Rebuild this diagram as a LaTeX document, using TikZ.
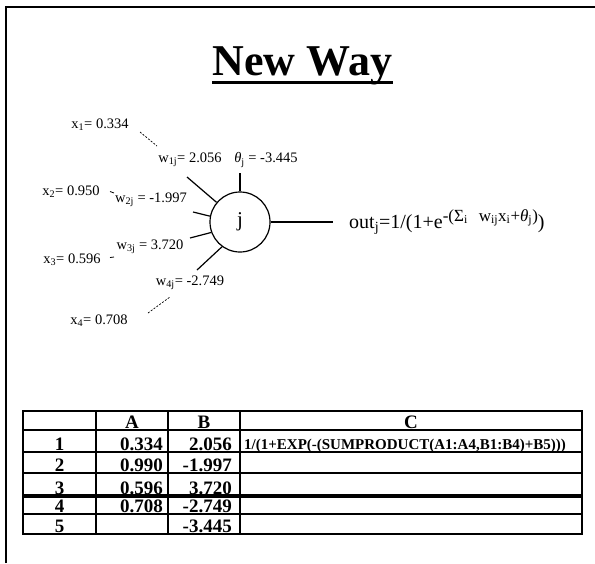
\documentclass[tikz,border=0pt]{standalone}
\usepackage{fontspec}
\setmainfont{Liberation Serif}
\newcommand{\sbx}[1]{\textsubscript{#1}}
\begin{document}
\begin{tikzpicture}[x=1pt,y=-1pt,
  lbl/.style={inner sep=0pt, font=\fontsize{14.5}{15}\selectfont},
  stub/.style={line width=1.2pt},
  gap/.style={line width=0.7pt, dash pattern=on 2pt off 1.5pt},
  cell/.style={inner sep=0pt, anchor=base, font=\bfseries\fontsize{19}{20}\selectfont},
  grid/.style={line width=1.6pt}]
\useasboundingbox (0,0) rectangle (595,563);
% frame
\draw[line width=2pt] (6,563) -- (6,7) -- (595,7);
% title
\node[inner sep=0pt, anchor=base, font=\bfseries\fontsize{44}{48}\selectfont] (title) at (302.5,75) {New Way};
\draw[line width=3pt] (title.base west) ++(0,7) coordinate (ul1) -- (title.base east |- ul1);
% neuron
\node[draw, circle, line width=1.2pt, minimum size=60pt, inner sep=0pt, font=\fontsize{21}{22}\selectfont] (j) at (240,222) {j};
\coordinate (w1e) at (187,177);
\coordinate (w2e) at (193,212);
\coordinate (w3e) at (190,238);
\coordinate (w4e) at (197,270);
\coordinate (the) at (240,173);
\coordinate (oute) at (333,222);
\draw[stub] (j.140) -- (w1e);
\draw[stub] (j.169) -- (w2e);
\draw[stub] (j.200) -- (w3e);
\draw[stub] (j.234) -- (w4e);
\draw[stub] (j.90) -- (the);
\draw[line width=1.6pt] (j.0) -- (oute);
% labels
\node[lbl] (x1) at (100,125) {x\sbx{1}= 0.334};
\node[lbl] (x2) at (71,192) {x\sbx{2}= 0.950};
\node[lbl] (x3) at (72,260) {x\sbx{3}= 0.596};
\node[lbl] (x4) at (99,321) {x\sbx{4}= 0.708};
\node[lbl] (w1) at (190,160) {w\sbx{1j}= 2.056};
\node[lbl] (w2) at (151,200) {w\sbx{2j} = -1.997};
\node[lbl] (w3) at (150,247) {w\sbx{3j} = 3.720};
\node[lbl] (w4) at (190,283) {w\sbx{4j}= -2.749};
\node[lbl] (th) at (266,160) {\textit{θ}\sbx{j} = -3.445};
\node[inner sep=0pt, anchor=west, font=\fontsize{20}{21}\selectfont] (out) at (349,222)
  {out\sbx{j}=1/(1+e\raisebox{7pt}{\fontsize{17}{17}\selectfont -(Σ\sbx{i}\hspace{11pt}w\sbx{ij}x\sbx{i}+\textit{θ}\sbx{j})})};
% gap dashes
\coordinate (g1a) at (140,132); \coordinate (g1b) at (157,146);
\coordinate (g2a) at (110,191.5); \coordinate (g2b) at (114,193);
\coordinate (g3a) at (110,257.5); \coordinate (g3b) at (114,257);
\coordinate (g4a) at (148,313); \coordinate (g4b) at (170,297);
\draw[gap] (g1a) -- (g1b);
\draw[line width=0.8pt] (g2a) -- (g2b);
\draw[line width=0.8pt] (g3a) -- (g3b);
\draw[gap] (g4a) -- (g4b);
% table
\draw[grid] (23,411) rectangle (582,534);
\foreach \xx in {96,168,240} \draw[grid] (\xx,411) -- (\xx,534);
\draw[grid] (23,430) -- (582,430);
\draw[line width=2.4pt] (23,452) -- (582,452);
\draw[grid] (23,473) -- (582,473);
\draw[line width=3.6pt] (23,496) -- (582,496);
\draw[grid] (23,514) -- (582,514);
% header
\node[cell] (hA) at (132,428.5) {A};
\node[cell] (hB) at (204,428.5) {B};
\node[cell] (hC) at (411,428.5) {C};
% row numbers
\node[cell] (r1) at (59.5,450.5) {1};
\node[cell] (r2) at (59.5,471.5) {2};
\node[cell] (r3) at (59.5,494) {3};
\node[cell] (r4) at (59.5,512.5) {4};
\node[cell] (r5) at (59.5,532.5) {5};
% column A
\node[cell, anchor=base east] (a1) at (163,450.5) {0.334};
\node[cell, anchor=base east] (a2) at (163,471.5) {0.990};
\node[cell, anchor=base east] (a3) at (163,494) {0.596};
\node[cell, anchor=base east] (a4) at (163,512.5) {0.708};
% column B
\node[cell, anchor=base east] (b1) at (232,450.5) {2.056};
\node[cell, anchor=base east] (b2) at (232,471.5) {-1.997};
\node[cell, anchor=base east] (b3) at (232,494) {3.720};
\node[cell, anchor=base east] (b4) at (232,512.5) {-2.749};
\node[cell, anchor=base east] (b5) at (232,532.5) {-3.445};
% C1
\node[cell, anchor=base west, font=\bfseries\fontsize{15}{16}\selectfont] (c1) at (244,449.5) {1/(1+EXP(-(SUMPRODUCT(A1:A4,B1:B4)+B5)))};
\end{tikzpicture}
\end{document}
